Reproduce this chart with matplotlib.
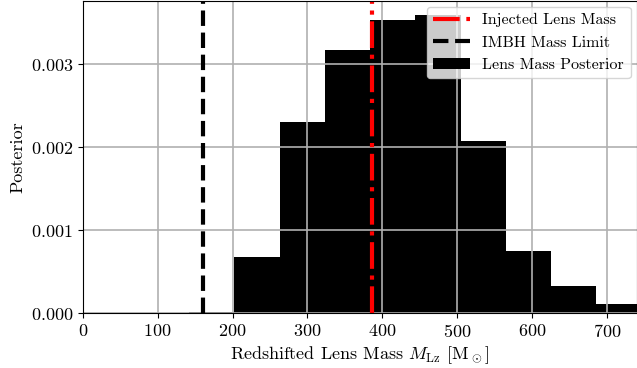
import numpy as np
import matplotlib
matplotlib.use("Agg")
import matplotlib.pyplot as plt

#===============================================================
# Lens mass posterior histogram with injected value and IMBH limit

plt.rcParams['font.family'] = 'serif'
plt.rcParams['font.serif'] = ['cmr10']
plt.rcParams['mathtext.fontset'] = 'cm'
plt.rcParams['axes.formatter.use_mathtext'] = True
plt.rcParams['font.size'] = 13

# bin edges of the posterior histogram (redshifted lens mass, Msun)
bin_start = 142.0
bin_width = 60.4
n_bins = 10
bin_edges = [bin_start + bin_width * k for k in range(n_bins + 1)]

# posterior density in each bin
posterior = [0.00002, 0.000676, 0.002307, 0.003168, 0.00353,
             0.00359, 0.00208, 0.000752, 0.000333, 0.000116]

injected_mass = 386.0
imbh_limit = 160.0

x_max = 740.0
y_max = 0.00377

fig = plt.figure(figsize=(6.37, 3.68), dpi=100)
ax = fig.add_axes([82.7 / 637, 54.7 / 368, (637 - 82.7) / 637, (313.3 - 0.5) / 368])

centers = [(bin_edges[i] + bin_edges[i + 1]) / 2 for i in range(n_bins)]
ax.hist(centers, bins=bin_edges, weights=posterior, color='black',
        label='Lens Mass Posterior')
ax.axvline(injected_mass, color='red', linestyle='-.', linewidth=3,
           label='Injected Lens Mass')
ax.axvline(imbh_limit, color='black', linestyle='--', linewidth=3,
           label='IMBH Mass Limit')

ax.set_xlim(0, x_max)
ax.set_ylim(0, y_max)
ax.set_xticks([0, 100, 200, 300, 400, 500, 600, 700])
ax.set_yticks([0.0, 0.001, 0.002, 0.003])
ax.grid(True, linewidth=1.2)

ax.set_xlabel(r'Redshifted Lens Mass $M_{\rm Lz}$ [M$_\odot$]', labelpad=3)
ax.set_ylabel('Posterior')

handles, labels = ax.get_legend_handles_labels()
order = [labels.index('Injected Lens Mass'), labels.index('IMBH Mass Limit'),
         labels.index('Lens Mass Posterior')]
ax.legend([handles[i] for i in order], [labels[i] for i in order],
          loc='upper right', fontsize=11.5, borderaxespad=0.4,
          handlelength=2.3)

plt.savefig('out.png', dpi=100)
plt.close()
